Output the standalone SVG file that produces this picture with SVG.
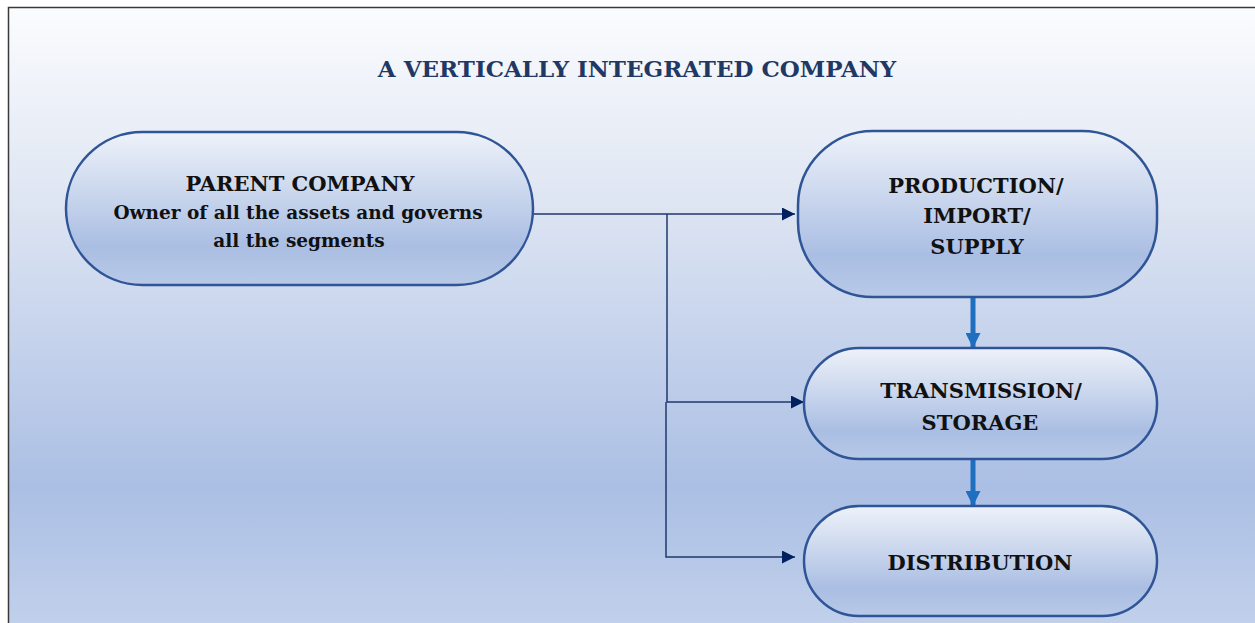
<svg xmlns="http://www.w3.org/2000/svg" width="1255" height="623" viewBox="0 0 1255 623">
<defs>
<linearGradient id="bg" x1="0" y1="0" x2="0" y2="1">
<stop offset="0" stop-color="#fbfcfe"/>
<stop offset="0.3" stop-color="#dfe6f3"/>
<stop offset="0.76" stop-color="#abbfe4"/>
<stop offset="1" stop-color="#c3d2ec"/>
</linearGradient>
<linearGradient id="nd" x1="0" y1="0" x2="0" y2="1">
<stop offset="0" stop-color="#eef2f9"/>
<stop offset="0.75" stop-color="#aabee3"/>
<stop offset="1" stop-color="#b8c9e8"/>
</linearGradient>
<marker id="ah" viewBox="0 0 10 10" refX="10" refY="5" markerWidth="13" markerHeight="13" markerUnits="userSpaceOnUse" orient="auto">
<path d="M0,0 L10,5 L0,10 Z" fill="#002060"/>
</marker>
<marker id="ah2" viewBox="0 0 10 10" refX="10" refY="5" markerWidth="15" markerHeight="15" markerUnits="userSpaceOnUse" orient="auto">
<path d="M0,0 L10,5 L0,10 Z" fill="#1f6fc0"/>
</marker>
</defs>
<style>
.node{fill:url(#nd);stroke:#2f5597;stroke-width:2.5}
.t{font-family:"DejaVu Serif","Liberation Serif",serif;font-weight:bold;fill:#111;text-anchor:middle}
.c{fill:none;stroke:#1f3a6e;stroke-width:1.5}
.b{fill:none;stroke:#1f6fc0;stroke-width:5}
</style>
<rect x="8.5" y="7.5" width="1260" height="630" fill="url(#bg)" stroke="#3a3a3a" stroke-width="1.5"/>
<text x="637" y="77" class="t" style="fill:#1f3864;font-size:23px">A VERTICALLY INTEGRATED COMPANY</text>
<g id="connectors">
<path class="c" d="M533,214 H795" marker-end="url(#ah)"/>
<path class="c" d="M667,214 V402 H804" marker-end="url(#ah)"/>
<path class="c" d="M666,402 V557 H795" marker-end="url(#ah)"/>
<path class="b" d="M973,297 V348" marker-end="url(#ah2)"/>
<path class="b" d="M973,459 V506" marker-end="url(#ah2)"/>
</g>
<g id="parent">
<rect class="node" x="66" y="132" width="467" height="153" rx="76.5"/>
<text x="300" y="191" class="t" style="font-size:21px">PARENT COMPANY</text>
<text x="298" y="219" class="t" style="font-size:18.5px">Owner of all the assets and governs</text>
<text x="299" y="247" class="t" style="font-size:18.5px">all the segments</text>
</g>
<g id="production">
<rect class="node" x="798" y="131" width="359" height="166" rx="75"/>
<text x="976" y="193" class="t" style="font-size:21px">PRODUCTION/</text>
<text x="977" y="223" class="t" style="font-size:21px">IMPORT/</text>
<text x="977" y="254" class="t" style="font-size:21px">SUPPLY</text>
</g>
<g id="transmission">
<rect class="node" x="804" y="348" width="353" height="111" rx="55"/>
<text x="981" y="398" class="t" style="font-size:21px">TRANSMISSION/</text>
<text x="980" y="430" class="t" style="font-size:21px">STORAGE</text>
</g>
<g id="distribution">
<rect class="node" x="804" y="506" width="353" height="110" rx="55"/>
<text x="980" y="570" class="t" style="font-size:21px">DISTRIBUTION</text>
</g>
</svg>
